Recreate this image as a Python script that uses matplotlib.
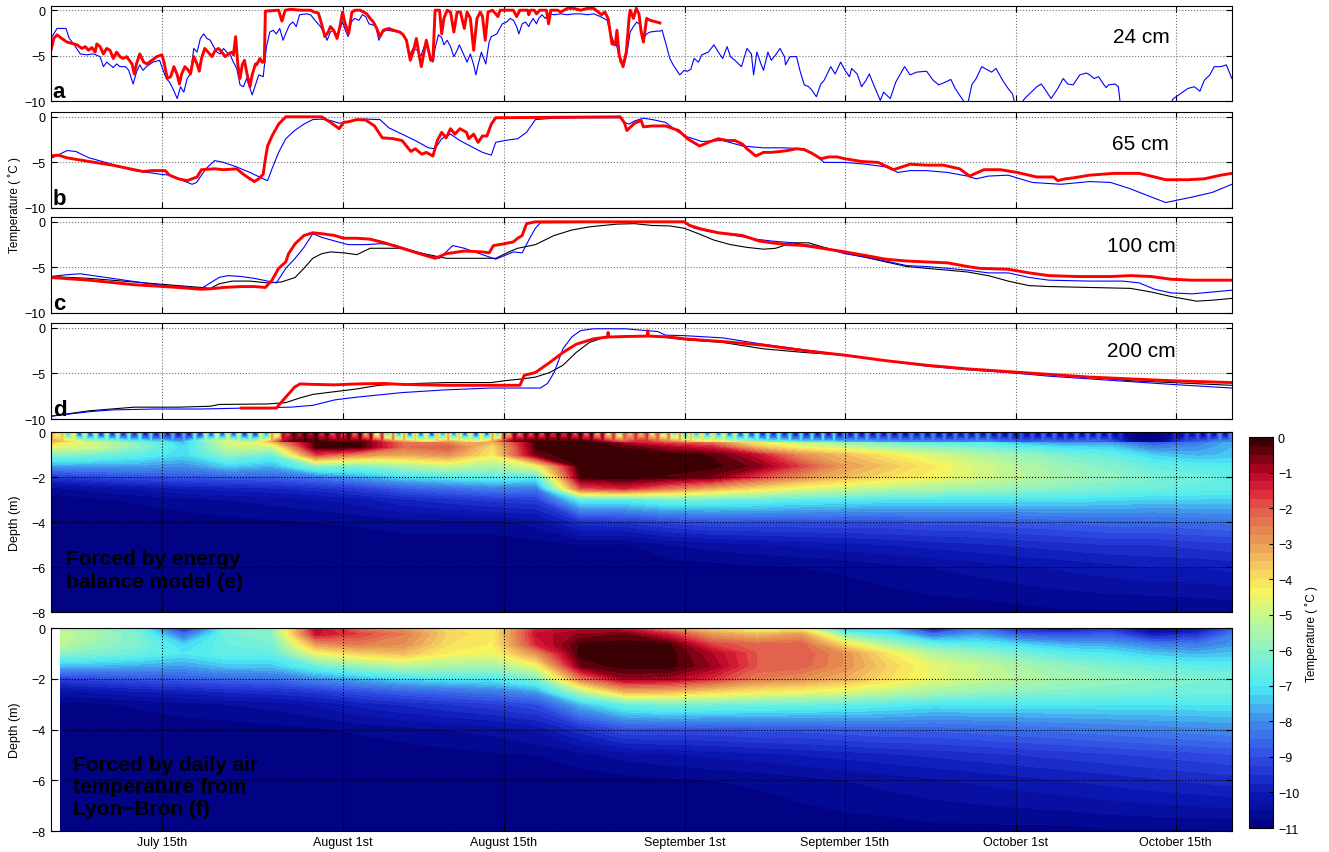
import numpy as np
import matplotlib.pyplot as plt
import matplotlib.tri as mtri
from matplotlib.colors import LinearSegmentedColormap

plt.rcParams['font.family'] = ['Liberation Sans', 'DejaVu Sans']

# x axis is in days since July 1st
tick_days = [14, 30.45, 45.03, 61.45, 75.97, 91.49, 106]
tick_labels = ['July 15th', 'August 1st', 'August 15th', 'September 1st',
               'September 15th', 'October 1st', 'October 15th']
x_range = (3.9, 111.1)

# ---- 24 cm (day, temperature) ----
a_blue = np.array([
    [3.94, -3.1], [4.5, -2.0], [5.3, -2.0], [5.6, -3.1], [6.0, -3.7], [6.6, -4.8], [7.2, -4.9],
    [7.8, -4.8], [8.4, -5.1], [8.7, -6.2], [9.0, -5.7], [9.3, -6.0], [9.6, -6.3], [9.9, -5.9],
    [10.2, -6.2], [10.7, -6.2], [11.0, -6.6], [11.4, -8.1], [11.7, -6.8], [12.0, -6.0], [12.3, -6.6],
    [12.6, -6.2], [13.2, -5.7], [13.8, -5.5], [14.0, -6.2], [14.4, -7.5], [14.7, -7.9], [15.0, -8.6],
    [15.4, -9.7], [15.7, -8.4], [16.0, -9.0], [16.3, -7.5], [16.6, -7.0], [16.9, -4.2], [17.2, -4.6],
    [17.5, -3.1], [17.8, -2.6], [18.1, -3.1], [18.4, -3.3], [18.7, -4.0], [19.0, -4.6], [19.3, -4.8],
    [19.6, -4.2], [19.9, -4.6], [20.2, -4.9], [20.5, -5.7], [20.8, -6.4], [21.1, -8.2], [21.4, -8.4],
    [21.7, -7.5], [21.9, -8.2], [22.2, -9.3], [22.5, -8.2], [22.8, -7.1], [23.2, -7.3], [23.5, -4.0],
    [23.8, -2.4], [24.1, -2.2], [24.4, -2.6], [24.7, -2.0], [25.0, -3.3], [25.3, -2.4], [25.6, -1.6],
    [25.9, -1.3], [26.2, -1.8], [26.5, -0.5], [27.1, -0.4], [27.5, -0.5], [27.9, -1.1], [28.4, -1.8],
    [28.8, -2.7], [29.0, -3.3], [29.3, -2.4], [29.6, -2.2], [29.9, -2.9], [30.2, -2.0], [30.4, -1.3],
    [30.6, -2.0], [30.9, -2.9], [31.2, -1.3], [31.5, -0.9], [31.9, -1.1], [32.2, -0.5], [32.5, -0.7],
    [32.8, -1.5], [33.1, -1.6], [33.4, -1.7], [33.7, -3.3], [34.0, -2.4], [34.4, -2.2], [35.0, -2.3],
    [35.5, -2.4], [35.9, -2.7], [36.2, -3.3], [36.5, -4.9], [36.8, -4.2], [37.2, -4.4], [37.5, -5.1],
    [37.8, -4.0], [38.1, -4.0], [38.4, -5.1], [38.6, -5.7], [38.8, -4.2], [39.1, -2.7], [39.4, -3.0],
    [39.6, -3.8], [39.9, -3.3], [40.2, -4.0], [40.5, -5.1], [40.8, -4.4], [41.0, -3.8], [41.4, -4.9],
    [41.7, -5.7], [42.0, -4.8], [42.3, -6.0], [42.5, -7.1], [42.7, -6.0], [43.0, -4.6], [43.4, -5.9],
    [43.7, -3.5], [43.9, -2.9], [44.4, -2.6], [44.9, -1.5], [45.3, -1.3], [45.6, -0.9], [45.9, -1.1],
    [46.2, -1.8], [46.4, -2.6], [46.7, -1.5], [47.0, -1.3], [47.3, -1.8], [47.4, -1.5], [47.7, -0.9],
    [48.0, -1.5], [48.2, -0.9], [48.5, -0.5], [48.8, -0.9], [49.1, -0.4], [49.6, -0.5], [50.2, -0.4],
    [50.8, -0.5], [51.4, -0.4], [52.0, -0.4], [52.6, -0.5], [53.2, -0.4], [53.8, -0.7], [54.4, -1.1],
    [54.7, -2.4], [55.0, -3.5], [55.3, -4.0], [55.6, -5.7], [55.9, -6.2], [56.2, -4.8], [56.5, -2.4],
    [56.8, -1.8], [57.1, -1.3], [57.4, -1.6], [57.7, -3.1], [58.0, -2.6], [58.3, -2.4], [58.9, -2.3],
    [59.2, -2.3], [59.4, -2.2], [59.7, -3.5], [60.1, -5.3], [60.4, -6.0], [61.0, -7.1], [61.4, -6.6],
    [61.7, -6.7], [62.0, -6.5], [62.3, -5.3], [62.7, -5.7], [63.0, -4.9], [63.6, -4.6], [64.1, -3.8],
    [64.5, -4.6], [64.9, -5.3], [65.3, -4.0], [65.6, -5.1], [66.0, -5.5], [66.6, -6.2], [67.1, -4.2],
    [67.5, -4.8], [67.7, -7.1], [68.0, -4.6], [68.4, -6.0], [68.6, -6.6], [69.0, -4.6], [69.3, -5.5],
    [69.7, -4.9], [70.1, -4.2], [70.5, -5.1], [70.6, -6.0], [71.0, -5.1], [71.6, -5.1], [71.9, -6.6],
    [72.3, -8.2], [72.7, -8.4], [73.0, -8.8], [73.4, -9.5], [73.8, -8.1], [74.1, -7.7], [74.7, -6.2],
    [75.1, -7.0], [75.6, -5.7], [76.0, -6.6], [76.4, -7.3], [76.6, -6.4], [77.1, -7.0], [77.5, -8.4],
    [77.9, -7.7], [78.2, -7.0], [78.6, -8.2], [79.2, -9.9], [79.5, -9.0], [80.1, -9.7], [80.6, -7.9],
    [81.4, -6.2], [81.9, -7.1], [82.5, -6.8], [83.4, -6.7], [84.0, -7.7], [84.5, -8.2], [85.1, -7.9],
    [85.6, -7.6], [86.0, -8.6], [86.6, -9.7], [87.1, -10.5], [87.5, -8.2], [87.9, -7.5], [88.4, -6.2],
    [89.0, -6.6], [89.3, -6.8], [89.7, -6.4], [90.3, -7.7], [90.8, -8.6], [91.2, -9.2], [91.4, -10.2],
    [92.0, -10.2], [92.3, -9.7], [92.9, -9.0], [93.4, -8.4], [93.8, -8.1], [94.1, -8.6], [94.7, -9.7],
    [95.3, -8.6], [95.8, -7.5], [96.2, -8.1], [96.7, -8.2], [97.3, -7.1], [97.9, -6.9], [98.2, -7.1],
    [98.6, -7.5], [99.0, -7.3], [99.5, -8.2], [99.7, -8.5], [99.9, -8.2], [100.5, -8.1], [100.8, -8.4],
    [101.0, -10.5], [105.4, -10.5], [105.8, -9.7], [106.4, -9.2], [107.1, -8.6], [107.7, -8.4],
    [108.2, -8.9], [108.6, -7.7], [109.1, -7.1], [109.5, -6.2], [110.1, -6.2], [110.6, -6.0], [111.1, -7.5]])

a_red = np.array([
    [3.94, -4.4], [4.2, -3.1], [4.5, -2.7], [4.8, -3.0], [5.4, -3.5], [6.3, -3.8], [6.75, -4.2],
    [7.05, -4.0], [7.35, -4.4], [7.65, -4.1], [7.95, -4.6], [8.1, -3.7], [8.4, -4.0], [8.7, -4.8],
    [9.0, -4.2], [9.3, -4.4], [9.6, -5.3], [9.9, -4.6], [10.2, -5.1], [10.5, -5.3], [10.8, -5.1],
    [11.3, -5.9], [11.5, -7.0], [11.7, -5.9], [12.0, -4.8], [12.35, -5.7], [12.65, -5.9], [13.1, -5.5],
    [13.55, -5.1], [14.0, -4.9], [14.2, -5.7], [14.5, -7.5], [14.8, -7.3], [15.1, -6.2], [15.4, -7.1],
    [15.6, -8.1], [15.8, -7.0], [16.1, -6.2], [16.4, -6.6], [16.6, -7.0], [16.9, -5.1], [17.2, -5.9],
    [17.4, -6.7], [17.6, -5.3], [17.9, -4.2], [18.2, -4.6], [18.55, -5.1], [18.85, -4.4], [19.15, -4.2],
    [19.45, -4.6], [19.75, -5.1], [20.05, -4.8], [20.35, -4.6], [20.5, -4.9], [20.7, -2.9], [20.9, -6.0],
    [21.1, -7.5], [21.3, -6.0], [21.5, -5.5], [21.7, -6.8], [22.0, -8.4], [22.2, -7.1], [22.5, -5.9],
    [22.6, -6.0], [22.9, -5.3], [23.1, -5.7], [23.3, -5.7], [23.4, -0.1], [24.6, 0.0], [24.9, -1.2],
    [25.2, 0.0], [25.7, 0.1], [26.6, 0.0], [27.5, 0.0], [27.8, -0.2], [28.2, -0.3], [28.5, -1.5],
    [28.8, -2.9], [29.1, -2.4], [29.3, -1.8], [29.6, -2.2], [29.9, -3.1], [30.2, -1.6], [30.4, -0.2],
    [30.6, -1.3], [30.95, -2.6], [31.25, -0.2], [31.55, 0.0], [32.0, 0.0], [32.3, -0.2], [32.6, -0.4],
    [32.9, -0.9], [33.2, -1.3], [33.5, -2.0], [33.8, -2.9], [34.1, -2.2], [34.6, -2.0], [35.0, -2.2],
    [35.6, -2.4], [35.9, -2.7], [36.2, -3.3], [36.55, -5.5], [36.85, -4.4], [37.1, -3.1], [37.3, -4.6],
    [37.55, -6.2], [37.8, -4.6], [38.0, -3.3], [38.2, -4.4], [38.4, -5.5], [38.6, -5.5], [38.8, 0.0],
    [39.2, 0.0], [39.4, -2.6], [39.6, -0.9], [39.9, 0.0], [40.2, -0.2], [40.5, -2.4], [40.8, -0.2],
    [41.1, -0.2], [41.45, -2.0], [41.7, -0.2], [42.0, -0.9], [42.3, -4.4], [42.6, -0.9], [42.9, -0.2],
    [43.1, -0.7], [43.35, -3.3], [43.6, -0.2], [44.0, 0.0], [44.3, -0.4], [44.5, -0.7], [44.7, 0.0],
    [45.9, 0.0], [46.2, -0.7], [46.5, 0.0], [47.2, 0.0], [47.3, -0.5], [47.45, 0.0], [47.8, 0.0],
    [48.0, -0.4], [48.3, 0.0], [48.9, 0.0], [49.1, -1.5], [49.3, 0.0], [49.9, 0.0], [50.2, -0.2],
    [50.8, 0.2], [51.4, 0.2], [52.0, 0.0], [52.6, 0.2], [53.2, 0.2], [53.6, -0.2], [53.9, -0.5],
    [54.2, -0.2], [54.5, -0.9], [54.85, -3.7], [55.15, -3.8], [55.3, -2.2], [55.5, -4.9], [55.85, -6.2],
    [56.15, -4.6], [56.4, -0.9], [56.5, 0.0], [56.8, -0.9], [57.05, 0.2], [57.3, -0.4], [57.5, -2.4],
    [57.7, -3.5], [58.0, -0.9], [58.3, -1.1], [58.6, -1.2], [59.2, -1.4]])

# ---- 65 cm ----
b_blue = np.array([
    [3.87, -4.6], [4.4, -4.3], [5.4, -3.7], [6.2, -3.8], [7.4, -4.5], [9.5, -5.2], [11.5, -5.9],
    [13.9, -6.3], [14.7, -6.4], [15.5, -6.8], [16.75, -7.4], [17.15, -7.2], [18.0, -5.7], [18.8, -4.8],
    [19.6, -5.0], [20.8, -5.5], [22.0, -6.1], [23.2, -6.8], [23.6, -7.0], [24.0, -5.7], [24.6, -3.9],
    [25.25, -2.4], [26.05, -1.5], [26.9, -0.8], [27.7, -0.3], [28.5, -0.25], [29.3, -0.4], [30.1, -0.7],
    [30.9, -0.55], [31.7, -0.3], [32.5, -0.25], [33.8, -0.3], [34.6, -1.2], [35.8, -1.9], [37.0, -2.6],
    [38.2, -3.4], [38.8, -3.5], [39.4, -2.4], [40.2, -1.9], [41.05, -2.6], [42.3, -3.4], [43.1, -3.9],
    [43.9, -4.2], [44.3, -2.8], [45.1, -2.6], [46.3, -2.4], [47.1, -1.7], [47.9, -0.3], [49.6, -0.15],
    [52.0, -0.1], [55.6, -0.1], [56.0, -0.6], [56.4, -0.8], [56.9, -0.45], [57.7, -0.15], [58.5, -0.3],
    [59.7, -0.6], [60.9, -1.7], [61.7, -2.2], [63.0, -2.7], [64.9, -2.6], [66.7, -3.2], [68.6, -3.4],
    [70.4, -3.4], [72.3, -3.5], [73.4, -4.3], [74.1, -5.0], [76.0, -5.0], [77.9, -5.2], [79.7, -5.5],
    [80.8, -6.1], [81.9, -5.9], [83.4, -5.9], [85.3, -6.1], [87.1, -6.5], [87.9, -6.8], [89.0, -6.5],
    [90.8, -6.4], [91.6, -6.7], [93.0, -7.2], [95.6, -7.4], [98.2, -7.1], [100.1, -7.2], [101.9, -7.9],
    [103.8, -8.8], [105.1, -9.4], [107.5, -8.8], [109.3, -8.3], [111.1, -7.4]])

b_red = np.array([
    [3.87, -4.3], [4.6, -4.2], [5.4, -4.5], [7.4, -4.9], [9.5, -5.3], [11.5, -5.8], [12.3, -6.0],
    [13.1, -5.9], [14.3, -5.9], [14.7, -6.4], [15.5, -6.8], [16.3, -7.0], [17.2, -6.6], [17.6, -5.8],
    [18.8, -5.7], [19.6, -5.8], [20.8, -5.7], [21.4, -6.3], [22.0, -6.8], [22.4, -7.1], [22.8, -6.8],
    [23.2, -6.3], [23.4, -4.6], [23.6, -3.2], [24.0, -2.1], [24.6, -0.8], [25.25, 0.0], [28.5, 0.0],
    [29.3, -0.6], [30.1, -1.3], [30.5, -0.6], [30.9, -0.55], [31.7, -0.3], [32.5, -0.35], [33.3, -1.0],
    [34.0, -2.3], [35.0, -2.4], [35.8, -2.6], [36.2, -3.2], [36.6, -3.8], [37.0, -3.5], [37.6, -4.1],
    [38.0, -3.9], [38.6, -4.3], [39.0, -2.6], [39.4, -1.7], [39.8, -2.3], [40.2, -1.3], [40.6, -1.9],
    [41.05, -1.3], [41.65, -1.7], [41.85, -2.4], [42.3, -1.9], [42.7, -2.8], [43.1, -2.1], [43.5, -2.1],
    [43.9, -0.8], [44.3, -0.1], [55.6, 0.0], [56.0, -0.7], [56.2, -1.5], [56.9, -0.7], [57.5, -0.4],
    [57.7, -1.1], [58.5, -1.0], [59.7, -1.0], [60.9, -1.5], [61.7, -2.4], [62.8, -3.2], [63.8, -2.7],
    [64.5, -2.4], [65.3, -2.6], [66.0, -2.6], [66.7, -3.0], [67.1, -3.5], [67.9, -4.3], [68.6, -3.9],
    [69.3, -3.9], [70.1, -3.8], [70.8, -3.7], [71.6, -3.5], [72.3, -3.6], [73.0, -4.0], [73.8, -4.6],
    [74.5, -4.4], [75.3, -4.4], [76.0, -4.6], [77.5, -4.9], [79.0, -5.0], [80.4, -5.8], [81.9, -5.2],
    [83.4, -5.3], [84.9, -5.3], [86.4, -5.7], [87.3, -6.5], [88.6, -5.8], [90.1, -5.8], [91.6, -6.1],
    [93.4, -6.6], [94.9, -6.6], [95.3, -7.0], [96.0, -6.8], [96.7, -6.7], [98.2, -6.4], [100.4, -6.2],
    [102.7, -6.2], [104.1, -6.6], [105.1, -6.9], [107.1, -6.9], [108.6, -6.8], [110.1, -6.4], [111.1, -6.2]])

# ---- 100 cm ----
c_blue = np.array([
    [3.87, -6.0], [5.4, -5.8], [6.6, -5.7], [9.5, -6.2], [13.5, -6.9], [17.6, -7.3], [18.4, -6.7],
    [19.2, -6.1], [20.0, -5.9], [21.2, -6.0], [22.4, -6.2], [23.6, -6.5], [24.4, -6.7], [25.25, -5.1],
    [26.1, -4.0], [26.9, -2.8], [27.7, -1.3], [28.5, -1.7], [29.7, -2.1], [30.9, -2.5], [32.5, -2.5],
    [33.8, -2.4], [35.0, -2.5], [36.6, -3.1], [38.2, -3.7], [39.2, -4.0], [39.8, -3.3], [40.4, -2.6],
    [41.45, -2.9], [43.1, -3.6], [44.3, -4.1], [45.1, -3.7], [45.9, -3.3], [46.7, -3.4], [47.3, -2.0],
    [47.9, -0.7], [48.35, -0.1], [61.3, 0.0], [61.9, -0.3], [62.3, -0.7], [63.8, -1.1], [66.0, -1.5],
    [67.9, -1.9], [69.3, -2.1], [71.2, -2.3], [73.0, -2.6], [74.5, -3.0], [76.0, -3.5], [77.9, -3.9],
    [79.7, -4.3], [81.6, -4.8], [83.4, -4.9], [85.3, -5.1], [87.1, -5.3], [89.0, -5.6], [90.8, -5.6],
    [92.7, -6.1], [94.5, -6.4], [98.2, -6.5], [101.2, -6.5], [102.7, -6.7], [104.1, -7.4], [105.6, -7.8],
    [107.5, -7.9], [109.3, -7.7], [111.1, -7.5]])

c_red = np.array([
    [3.87, -6.1], [7.4, -6.4], [11.5, -6.9], [15.5, -7.2], [17.6, -7.4], [18.4, -7.35], [19.6, -7.2],
    [21.2, -7.1], [22.4, -7.1], [23.4, -7.2], [24.0, -6.4], [24.6, -5.1], [25.25, -4.4], [25.5, -3.5],
    [26.1, -2.4], [26.9, -1.5], [27.7, -1.2], [28.5, -1.3], [29.7, -1.5], [30.5, -1.8], [31.7, -1.8],
    [32.9, -1.9], [34.2, -2.3], [35.8, -2.9], [37.4, -3.5], [38.8, -4.0], [39.8, -3.5], [41.45, -3.2],
    [43.1, -3.3], [43.7, -3.4], [44.1, -2.6], [45.1, -2.4], [45.9, -2.2], [46.3, -1.8], [46.7, -1.5],
    [47.1, -0.2], [47.9, 0.0], [61.4, 0.0], [61.9, -0.4], [63.0, -0.8], [64.5, -1.2], [66.7, -1.5],
    [68.2, -2.1], [69.3, -2.3], [70.8, -2.5], [72.3, -2.6], [73.4, -2.8], [76.0, -3.3], [77.9, -3.7],
    [79.7, -4.1], [81.6, -4.3], [83.4, -4.4], [85.3, -4.5], [87.1, -4.9], [88.2, -5.1], [90.8, -5.2],
    [92.7, -5.6], [94.5, -5.9], [97.1, -6.0], [100.1, -6.0], [101.9, -5.9], [103.8, -6.0], [105.6, -6.3],
    [107.5, -6.4], [109.3, -6.4], [111.1, -6.4]])

c_black = np.array([
    [3.87, -6.0], [7.4, -6.2], [11.5, -6.6], [15.5, -7.0], [17.6, -7.2], [18.4, -7.3], [19.2, -6.8],
    [20.4, -6.5], [22.0, -6.5], [23.6, -6.7], [24.85, -6.6], [26.1, -6.1], [26.9, -5.1], [27.7, -4.0],
    [28.5, -3.5], [29.3, -3.3], [30.5, -3.4], [31.7, -3.6], [32.9, -2.9], [34.2, -2.9], [35.8, -2.9],
    [37.8, -3.5], [39.8, -4.0], [41.45, -4.0], [43.1, -4.0], [44.3, -4.0], [45.5, -3.3], [46.3, -2.9],
    [47.9, -2.5], [49.6, -1.5], [51.2, -0.9], [52.8, -0.55], [55.3, -0.25], [56.9, -0.2], [58.5, -0.4],
    [60.1, -0.45], [61.4, -0.7], [62.7, -1.3], [64.1, -2.0], [65.6, -2.5], [67.1, -2.8], [68.6, -3.0],
    [69.7, -2.9], [71.2, -2.3], [72.7, -2.3], [74.1, -2.8], [76.0, -3.4], [77.9, -3.9], [79.7, -4.4],
    [81.6, -4.9], [83.4, -5.1], [85.3, -5.3], [87.1, -5.5], [89.0, -5.9], [90.8, -6.5], [92.7, -7.0],
    [94.5, -7.1], [98.2, -7.2], [101.9, -7.3], [103.8, -7.7], [105.6, -8.2], [107.9, -8.7], [109.3, -8.6],
    [111.1, -8.4]])

# ---- 200 cm ----
d_blue = np.array([
    [3.87, -9.7], [7.4, -9.2], [9.5, -9.0], [13.5, -8.9], [17.6, -8.9], [21.6, -8.8], [25.7, -8.7],
    [27.7, -8.5], [29.7, -7.9], [31.7, -7.6], [35.8, -7.1], [39.8, -6.8], [43.9, -6.6], [48.35, -6.6],
    [49.0, -6.1], [49.6, -4.9], [50.4, -2.3], [51.2, -1.0], [52.0, -0.3], [53.2, -0.1], [56.0, -0.1],
    [58.0, -0.3], [59.0, -0.4], [59.7, -0.8], [61.4, -0.85], [64.9, -1.1], [68.6, -1.8], [72.3, -2.4],
    [76.0, -3.0], [79.7, -3.6], [83.4, -4.2], [87.1, -4.6], [90.8, -4.9], [94.5, -5.3], [98.2, -5.6],
    [101.9, -5.9], [105.6, -6.2], [111.1, -6.6]])

d_red = np.array([
    [21.2, -8.8], [24.4, -8.8], [24.6, -8.5], [25.25, -7.6], [26.05, -6.5], [26.55, -6.15], [27.7, -6.2],
    [29.7, -6.25], [31.7, -6.15], [34.1, -6.1], [35.8, -6.2], [39.8, -6.3], [43.9, -6.3], [46.5, -6.3],
    [46.9, -5.2], [47.9, -4.9], [49.2, -3.8], [50.4, -2.7], [51.6, -1.8], [53.2, -1.2], [54.45, -1.0],
    [54.5, -0.5], [54.55, -1.0], [56.1, -0.95], [58.05, -0.9], [58.1, -0.3], [58.15, -0.9], [60.1, -1.0],
    [61.4, -1.2], [64.9, -1.5], [68.6, -1.9], [72.3, -2.5], [76.0, -3.0], [79.7, -3.6], [83.4, -4.1],
    [87.1, -4.5], [90.8, -4.8], [94.5, -5.1], [98.2, -5.4], [101.9, -5.6], [105.6, -5.8], [111.1, -6.0]])

d_black = np.array([
    [3.87, -9.7], [7.4, -9.1], [11.5, -8.7], [15.5, -8.7], [18.4, -8.6], [19.2, -8.4], [23.6, -8.35],
    [25.25, -8.2], [26.5, -7.7], [27.7, -7.3], [29.7, -7.0], [31.7, -6.7], [33.7, -6.3], [35.8, -6.15],
    [39.8, -6.0], [43.9, -6.0], [45.1, -5.8], [46.7, -5.6], [47.9, -5.4], [49.2, -4.9], [50.4, -4.1],
    [51.6, -2.7], [52.8, -1.6], [54.0, -1.1], [56.1, -0.9], [58.1, -0.9], [60.1, -1.1], [61.4, -1.3],
    [64.9, -1.6], [68.6, -2.3], [72.3, -2.7], [76.0, -3.0], [79.7, -3.6], [83.4, -4.1], [87.1, -4.5],
    [90.8, -4.8], [94.5, -5.1], [98.2, -5.4], [101.9, -5.8], [105.6, -6.0], [111.1, -6.3]])

# ---- modelled ground temperature profiles (columns = days, rows = depth) ----
depths = [0, 0.24, 0.65, 1.0, 1.5, 2.0, 2.5, 3.0, 4.0, 5.0, 6.0, 8.0]

e_days = [3.9, 8, 12, 16, 20, 24, 28, 32, 36, 40, 44, 48, 52, 56, 60, 64, 68, 72, 76, 80, 84, 88,
          92, 96, 100, 104, 108, 112]
e_profiles = [
    [-4.5, -2.5, -4.6, -6.0, -7.8, -9.5, -10.6, -10.9, -11, -11, -11, -11],
    [-6.0, -5.0, -4.9, -6.3, -7.8, -9.2, -10.4, -10.8, -11, -11, -11, -11],
    [-7.0, -6.3, -6.0, -6.7, -7.8, -9.0, -10.2, -10.7, -10.95, -11, -11, -11],
    [-9.0, -7.8, -7.2, -7.2, -8.0, -8.9, -10.0, -10.6, -10.9, -11, -11, -11],
    [-5.5, -4.5, -5.0, -5.9, -7.3, -8.8, -9.9, -10.5, -10.85, -11, -11, -11],
    [-3.0, -2.5, -5.0, -6.5, -7.6, -8.7, -9.8, -10.4, -10.8, -10.95, -11, -11],
    [-0.8, -0.2, -0.2, -1.8, -6.0, -8.4, -9.6, -10.3, -10.75, -10.95, -11, -11],
    [-0.8, -0.2, -0.2, -2.8, -6.2, -7.8, -9.3, -10.1, -10.7, -10.95, -11, -11],
    [-2.5, -2.5, -2.3, -3.2, -5.5, -7.2, -8.8, -9.8, -10.6, -10.9, -11, -11],
    [-4.0, -3.5, -2.0, -2.8, -5.0, -6.9, -8.5, -9.6, -10.6, -10.9, -11, -11],
    [-3.5, -3.0, -4.0, -4.2, -5.5, -6.7, -8.2, -9.4, -10.6, -10.9, -11, -11],
    [-0.8, -0.2, -0.2, -0.4, -4.5, -6.8, -8.3, -9.3, -10.4, -10.85, -11, -11],
    [-0.3, -0.2, -0.1, -0.05, -0.05, -0.2, -2.0, -6.8, -9.6, -10.75, -10.95, -11],
    [-2.0, -2.0, -0.3, -0.05, -0.05, -0.1, -1.5, -6.8, -9.5, -10.8, -10.95, -11],
    [-3.5, -3.0, -1.0, -0.1, -0.1, -0.3, -2.5, -6.4, -9.2, -10.5, -10.9, -11],
    [-5.0, -3.5, -1.5, -0.3, -0.15, -0.6, -3.3, -6.5, -9.0, -10.4, -10.85, -11],
    [-7.0, -5.0, -3.5, -1.2, -0.6, -1.8, -4.0, -6.6, -9.0, -10.3, -10.8, -11],
    [-7.5, -6.0, -4.5, -2.8, -1.8, -2.8, -4.6, -6.8, -9.0, -10.2, -10.75, -11],
    [-8.5, -7.0, -5.0, -3.5, -3.0, -3.5, -5.0, -6.9, -9.0, -10.1, -10.7, -11],
    [-9.0, -7.5, -5.6, -4.2, -3.6, -4.0, -5.3, -7.0, -9.0, -10.0, -10.6, -10.95],
    [-8.5, -7.8, -6.0, -4.8, -4.2, -4.4, -5.5, -7.0, -8.9, -9.9, -10.5, -10.9],
    [-8.0, -7.5, -6.3, -5.3, -4.8, -4.8, -5.7, -7.0, -8.9, -9.8, -10.4, -10.9],
    [-9.5, -8.5, -6.8, -5.8, -5.3, -5.2, -5.9, -7.1, -8.8, -9.7, -10.3, -10.85],
    [-9.5, -8.8, -7.2, -6.3, -5.8, -5.6, -6.1, -7.1, -8.7, -9.6, -10.2, -10.8],
    [-9.0, -8.5, -7.3, -6.6, -6.1, -5.9, -6.3, -7.2, -8.6, -9.5, -10.1, -10.8],
    [-10.8, -10.0, -8.2, -7.3, -6.6, -6.2, -6.5, -7.3, -8.6, -9.5, -10.0, -10.8],
    [-9.5, -8.8, -8.0, -7.6, -6.8, -6.4, -6.6, -7.3, -8.5, -9.4, -10.0, -10.75],
    [-8.0, -7.5, -7.4, -7.4, -6.9, -6.6, -6.7, -7.3, -8.4, -9.3, -9.9, -10.7]]

# near-surface layer of panel e: daytime values (integer days 4..111) and
# night-time cold spikes at the surface (days 3.5..111.5)
e_surface_warm = [
    -3.0, -3.5, -4.0, -5.0, -5.5, -5.5, -6.0, -6.5, -6.5, -7.0, -7.0, -7.5, -7.5, -6.5, -5.5, -4.8,
    -4.5, -5.0, -5.5, -4.5, -3.0, -1.0, -0.3, -0.2, -0.2, -0.3, -0.5, -0.3, -0.3, -0.8, -1.5, -2.5,
    -3.0, -3.5, -4.0, -3.5, -3.0, -3.5, -4.0, -4.0, -3.0, -1.5, -0.5, -0.3, -0.2, -0.2, -0.2, -0.2,
    -0.2, -0.3, -0.8, -1.5, -2.0, -1.5, -1.5, -2.0, -2.5, -3.0, -3.5, -4.0, -4.0, -4.5, -5.0, -5.5,
    -6.0, -6.5, -6.5, -6.8, -7.0, -7.0, -7.2, -7.2, -7.5, -7.5, -7.5, -7.8, -7.8, -8.0, -8.0, -8.0,
    -8.0, -8.2, -8.2, -8.2, -8.0, -8.0, -8.5, -8.5, -8.8, -8.8, -8.5, -8.5, -8.8, -8.5, -8.5, -8.5,
    -8.8, -9.5, -10.5, -10.8, -10.8, -10.5, -9.5, -9.0, -8.8, -8.5, -8.0, -8.0]
e_surface_cold = [
    -4.0, -5.0, -8.0, -10.0, -10.0, -10.5, -10.5, -10.5, -10.5, -10.8, -10.8, -10.8, -10.8, -10.8,
    -10.5, -10.0, -10.0, -10.0, -10.5, -10.5, -9.0, -6.0, -2.0, -1.5, -1.5, -2.0, -2.5, -2.0, -3.0,
    -4.0, -6.0, -8.0, -9.0, -10.0, -10.0, -10.5, -9.0, -9.5, -10.0, -10.5, -10.0, -8.0, -4.0, -3.0,
    -2.5, -2.5, -2.0, -2.0, -2.5, -3.0, -4.0, -5.0, -6.0, -4.0, -4.0, -5.0, -6.0, -7.0, -8.0, -8.5,
    -9.0, -9.0, -9.5, -10.0, -10.0, -10.5, -10.5, -10.5, -10.8, -10.8, -11.0, -10.8, -11.0, -10.8,
    -11.0, -11.0, -10.8, -11.0, -11.0, -10.8, -11.0, -11.0, -11.0, -10.8, -11.0, -11.0, -11.0, -11.0,
    -11.0, -10.8, -11.0, -11.0, -11.0, -11.0, -11.0, -11.0, -11.0, -11.0, -11.0, -11.0, -11.0, -11.0,
    -11.0, -11.0, -10.8, -11.0, -11.0, -11.0, -10.8]
surface_layer = 0.42  # m

f_days = [4.8, 8, 12, 16, 20, 24, 28, 32, 36, 40, 44, 48, 52, 56, 60, 64, 68, 72, 76, 80, 84, 88,
          92, 96, 100, 104, 108, 112]
f_profiles = [
    [-5.5, -5.0, -5.2, -6.0, -7.5, -9.3, -10.3, -10.85, -11, -11, -11, -11],
    [-6.0, -5.5, -5.8, -6.2, -7.6, -9.1, -10.2, -10.8, -11, -11, -11, -11],
    [-6.5, -6.3, -6.2, -6.5, -7.7, -8.9, -10.0, -10.7, -10.95, -11, -11, -11],
    [-10.0, -8.5, -7.3, -7.0, -7.8, -8.8, -9.9, -10.6, -10.9, -11, -11, -11],
    [-6.5, -6.3, -6.5, -6.6, -7.4, -8.6, -9.7, -10.5, -10.9, -11, -11, -11],
    [-6.0, -6.0, -6.3, -6.6, -7.4, -8.5, -9.6, -10.4, -10.85, -11, -11, -11],
    [-1.0, -1.2, -3.0, -4.5, -6.5, -8.0, -9.4, -10.2, -10.8, -10.95, -11, -11],
    [-2.5, -1.8, -2.5, -3.8, -5.8, -7.6, -9.0, -9.9, -10.7, -10.95, -11, -11],
    [-3.0, -2.5, -2.8, -3.5, -5.3, -7.2, -8.7, -9.7, -10.6, -10.9, -11, -11],
    [-4.0, -3.8, -4.0, -4.3, -5.5, -7.0, -8.5, -9.5, -10.5, -10.85, -11, -11],
    [-4.2, -4.2, -4.3, -4.5, -5.6, -6.9, -8.3, -9.3, -10.4, -10.8, -10.95, -11],
    [-1.5, -1.2, -1.5, -2.8, -4.5, -6.2, -7.8, -9.0, -10.2, -10.75, -10.95, -11],
    [-1.2, -0.7, -0.2, -0.1, -0.5, -2.5, -5.3, -7.5, -9.6, -10.6, -10.9, -11],
    [-1.5, -0.5, -0.1, -0.05, -0.1, -0.8, -3.3, -6.5, -9.0, -10.4, -10.85, -11],
    [-3.0, -1.5, -0.2, -0.1, -0.1, -0.9, -3.4, -6.2, -9.0, -10.3, -10.8, -11],
    [-4.0, -3.0, -1.8, -1.0, -0.8, -1.6, -3.8, -6.3, -9.0, -10.2, -10.75, -11],
    [-5.0, -3.5, -2.2, -2.0, -2.0, -2.5, -4.2, -6.4, -8.9, -10.1, -10.7, -11],
    [-4.5, -3.0, -2.1, -2.0, -2.1, -2.8, -4.4, -6.5, -8.9, -10.0, -10.6, -10.95],
    [-8.0, -6.0, -4.0, -2.8, -2.8, -3.3, -4.7, -6.6, -8.8, -9.9, -10.5, -10.9],
    [-7.5, -7.0, -5.5, -4.2, -3.8, -4.0, -5.1, -6.8, -8.7, -9.8, -10.4, -10.9],
    [-10.5, -8.5, -6.5, -5.3, -4.6, -4.6, -5.5, -7.0, -8.7, -9.7, -10.3, -10.85],
    [-8.5, -7.8, -6.8, -5.8, -5.0, -5.0, -5.8, -7.0, -8.6, -9.6, -10.2, -10.85],
    [-10.0, -8.8, -7.2, -6.3, -5.5, -5.3, -6.0, -7.0, -8.5, -9.5, -10.1, -10.85],
    [-10.3, -9.0, -7.6, -6.8, -5.9, -5.6, -6.1, -7.0, -8.4, -9.4, -10.0, -10.85],
    [-9.5, -8.8, -7.7, -7.0, -6.2, -5.8, -6.2, -7.0, -8.3, -9.3, -9.9, -10.8],
    [-11.0, -10.0, -8.2, -7.4, -6.5, -6.0, -6.3, -7.0, -8.2, -9.2, -9.8, -10.8],
    [-10.5, -9.5, -8.3, -7.6, -6.7, -6.2, -6.4, -7.0, -8.1, -9.1, -9.7, -10.8],
    [-8.5, -8.0, -7.8, -7.4, -6.8, -6.3, -6.4, -7.0, -8.0, -9.0, -9.6, -10.8]]

# colour scale (value, rgb)
cmap_stops = [(-11, (0.0, 0.0, 0.5)), (-10, (0.05, 0.1, 0.72)), (-9, (0.2, 0.3, 0.9)),
              (-8, (0.25, 0.55, 0.92)), (-7, (0.3, 0.92, 0.96)), (-6, (0.55, 0.95, 0.78)),
              (-5, (0.78, 0.97, 0.55)), (-4.3, (0.98, 0.96, 0.36)), (-3.5, (0.95, 0.75, 0.38)),
              (-2.7, (0.9, 0.55, 0.32)), (-2, (0.88, 0.35, 0.3)), (-1.5, (0.87, 0.15, 0.22)),
              (-1, (0.72, 0.02, 0.15)), (-0.5, (0.45, 0.0, 0.07)), (0, (0.18, 0.0, 0.0))]
cmap = LinearSegmentedColormap.from_list('soil', [((v + 11) / 11, c) for v, c in cmap_stops])
levels = np.arange(-11, 0.001, 0.25)

fig = plt.figure(figsize=(13.29, 8.53), dpi=100)
L, W = 0.038, 0.8889
ax_a = fig.add_axes([L, 0.8801, W, 0.1121])
ax_b = fig.add_axes([L, 0.7550, W, 0.1122])
ax_c = fig.add_axes([L, 0.6319, W, 0.1122])
ax_d = fig.add_axes([L, 0.5076, W, 0.1122])
ax_e = fig.add_axes([L, 0.2810, W, 0.2110])
ax_f = fig.add_axes([L, 0.0243, W, 0.2383])
cax = fig.add_axes([0.9398, 0.0281, 0.0181, 0.4584])


def line_panel(ax, series, label, letter, label_y):
    for data, color, lw in series:
        ax.plot(data[:, 0], data[:, 1], color=color, lw=lw)
    ax.set_xlim(x_range)
    ax.set_ylim(-10, 0.5)
    ax.set_yticks([-10, -5, 0])
    ax.set_xticks(tick_days)
    ax.set_xticklabels([])
    ax.grid(True, ls=':', color='0.45', lw=0.8)
    ax.tick_params(direction='in', top=True, right=True, length=4, labelsize=9)
    ax.text(0.923, label_y, label, transform=ax.transAxes, ha='center', va='center', fontsize=15)
    ax.text(0.002, 0.04, letter, transform=ax.transAxes, fontsize=16, fontweight='bold',
            va='baseline')


line_panel(ax_a, [(a_blue, 'b', 0.8), (a_red, 'r', 2.1)], '24 cm', 'a', 0.68)
line_panel(ax_b, [(b_blue, 'b', 0.8), (b_red, 'r', 2.1)], '65 cm', 'b', 0.67)
line_panel(ax_c, [(c_black, 'k', 0.8), (c_blue, 'b', 0.8), (c_red, 'r', 2.1)], '100 cm', 'c', 0.70)
line_panel(ax_d, [(d_black, 'k', 0.8), (d_blue, 'b', 0.8), (d_red, 'r', 2.1)], '200 cm', 'd', 0.72)


def style_depth_axis(ax, text, text_x, text_y, spacing):
    ax.set_xlim(x_range)
    ax.set_ylim(-8, 0)
    ax.set_yticks([-8, -6, -4, -2, 0])
    ax.set_xticks(tick_days)
    ax.grid(True, ls=':', color='k', lw=0.8)
    ax.tick_params(direction='in', top=True, right=True, length=4, labelsize=9)
    ax.set_ylabel('Depth (m)', fontsize=9)
    ax.yaxis.set_label_coords(-0.025, 0.5)
    ax.text(text_x, text_y, text, transform=ax.transAxes, ha='left', va='center', fontsize=15,
            fontweight='bold', linespacing=spacing)


# panel e: gridded profiles, then the thin surface layer with its daily cycle on top
e_temp = np.clip(np.array(e_profiles).T, -11, 0)
cs = ax_e.contourf(e_days, -np.array(depths), e_temp, levels=levels, cmap=cmap)
warm_days = np.arange(4, 112)
cold_days = np.arange(3.5, 112)
layer_x = np.concatenate([cold_days, warm_days, warm_days])
layer_z = np.concatenate([np.zeros(len(cold_days)), np.zeros(len(warm_days)),
                          np.full(len(warm_days), -surface_layer)])
layer_t = np.concatenate([e_surface_cold, e_surface_warm, e_surface_warm])
layer_tri = mtri.Triangulation(layer_x, layer_z)
ax_e.tricontourf(layer_tri, np.clip(layer_t, -11, 0), levels=levels, cmap=cmap)
style_depth_axis(ax_e, 'Forced by energy\nbalance model (e)', 0.013, 0.235, 1.3)
ax_e.set_xticklabels([])

f_temp = np.clip(np.array(f_profiles).T, -11, 0)
ax_f.contourf(f_days, -np.array(depths), f_temp, levels=levels, cmap=cmap)
style_depth_axis(ax_f, 'Forced by daily air\ntemperature from\nLyon\u2212Bron (f)', 0.019, 0.218, 1.2)
ax_f.set_xticklabels(tick_labels, fontsize=9)

fig.text(0.0113, 0.760, 'Temperature ( \u02daC )', rotation=90, ha='center', va='center', fontsize=8.5)

cb = fig.colorbar(cs, cax=cax, ticks=range(-11, 1))
cb.ax.tick_params(labelsize=9, direction='in', length=3)
cb.set_label('Temperature ( \u02daC )', fontsize=8.5)

fig.savefig('out.png', dpi=100)
